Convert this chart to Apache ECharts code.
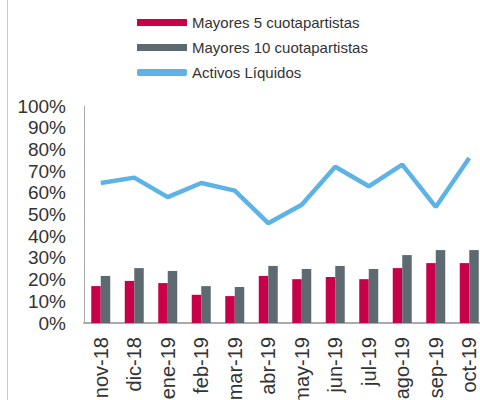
<!DOCTYPE html>
<html>
<head>
<meta charset="utf-8">
<script src="https://cdn.jsdelivr.net/npm/echarts@6/dist/echarts.min.js"></script>
<style>
  html, body { margin: 0; padding: 0; background: #fff; }
  #chart { width: 480px; height: 400px; }
</style>
</head>
<body>
<div id="chart"></div>
<script>
var months = ['nov-18', 'dic-18', 'ene-19', 'feb-19', 'mar-19', 'abr-19', 'may-19', 'jun-19', 'jul-19', 'ago-19', 'sep-19', 'oct-19'];
var top5 = [17, 19.4, 18.4, 13, 12.4, 21.7, 20.2, 21.2, 20.2, 25.3, 27.6, 27.6];
var top10 = [21.7, 25.3, 24, 17, 16.6, 26.3, 24.9, 26.3, 24.9, 31.3, 33.6, 33.6];
var liquidos = [64.5, 67, 58, 64.5, 61, 46, 54.5, 72, 63, 73, 53.5, 76];

var red = '#c8004a';
var grey = '#5e6a71';
var blue = '#5db3e6';
var ink = '#333';

var chart = echarts.init(document.getElementById('chart'), null, { renderer: 'svg' });
chart.setOption({
  animation: false,
  textStyle: { fontFamily: 'Liberation Sans, Arial, sans-serif' },
  graphic: [{
    type: 'line',
    shape: { x1: 7.5, y1: 0, x2: 7.5, y2: 400 },
    style: { stroke: '#c8c8c8', lineWidth: 1 }
  }],
  legend: {
    orient: 'vertical',
    left: 132,
    top: 10,
    itemWidth: 50,
    itemHeight: 7,
    itemGap: 10,
    textStyle: { color: ink, fontSize: 15 },
    data: [
      { name: 'Mayores 5 cuotapartistas', icon: 'rect' },
      { name: 'Mayores 10 cuotapartistas', icon: 'rect' },
      { name: 'Activos Líquidos', icon: 'roundRect' }
    ]
  },
  grid: { left: 84, right: -6, top: 106, bottom: 77, containLabel: false, outerBoundsMode: 'none' },
  xAxis: {
    type: 'category',
    data: months,
    axisLine: { lineStyle: { color: '#aaa', width: 2 } },
    axisTick: { show: false },
    axisLabel: { rotate: 90, color: ink, fontSize: 20, margin: 14, interval: 0 }
  },
  yAxis: {
    type: 'value',
    min: 0,
    max: 100,
    interval: 10,
    axisLine: { show: true, lineStyle: { color: '#aaa', width: 1 } },
    axisTick: { show: false },
    splitLine: { show: false },
    axisLabel: { color: ink, fontSize: 19, margin: 18, formatter: '{value}%' }
  },
  series: [
    {
      name: 'Mayores 5 cuotapartistas',
      type: 'bar',
      data: top5,
      barWidth: 9.5,
      barGap: '0%',
      itemStyle: { color: red }
    },
    {
      name: 'Mayores 10 cuotapartistas',
      type: 'bar',
      data: top10,
      barWidth: 9.5,
      itemStyle: { color: grey }
    },
    {
      name: 'Activos Líquidos',
      type: 'line',
      data: liquidos,
      symbol: 'none',
      itemStyle: { color: blue },
      lineStyle: { color: blue, width: 4.5 }
    }
  ]
});
</script>
</body>
</html>
